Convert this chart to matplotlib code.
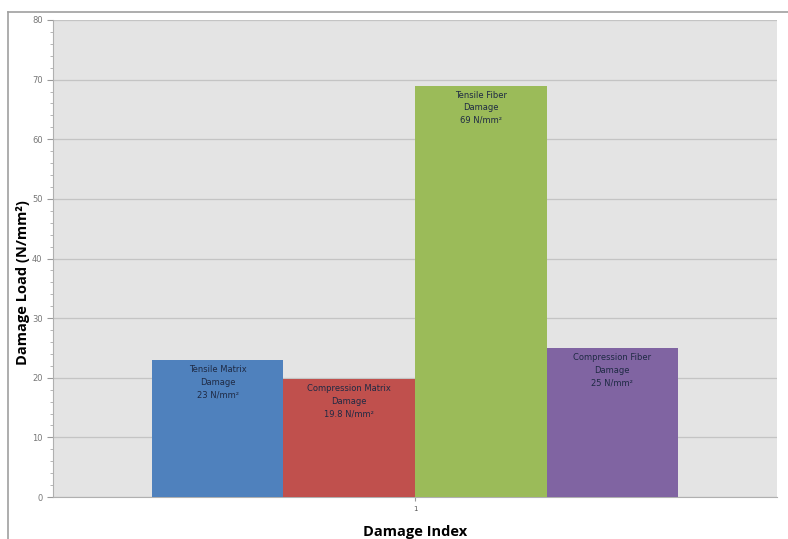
import numpy as np
import matplotlib
matplotlib.use('Agg')
import matplotlib.pyplot as plt
from matplotlib.lines import Line2D

# data
series = ['Tensile Matrix Damage', 'Compression Matrix Damage',
          'Tensile Fiber Damage', 'Compression Fiber Damage']
values = [23, 19.8, 69, 25]
bar_notes = ['Tensile Matrix\nDamage\n23 N/mm²',
             'Compression Matrix\nDamage\n19.8 N/mm²',
             'Tensile Fiber\nDamage\n69 N/mm²',
             'Compression Fiber\nDamage\n25 N/mm²']
colors = ['#4F81BD', '#C0504D', '#9BBB59', '#8064A2']
categories = ['1']
y_ticks = [0, 10, 20, 30, 40, 50, 60, 70, 80]

fig = plt.figure(figsize=(7.88, 5.39), dpi=100)
ax = fig.add_axes([0.0673, 0.0779, 0.9187, 0.885])
ax.set_facecolor('#e4e4e4')

n = len(values)
group_w = 0.727
w = group_w / n
x0 = 0 - group_w / 2 + w / 2
for i, (v, c, note) in enumerate(zip(values, colors, bar_notes)):
    xpos = x0 + i * w
    ax.bar(xpos, v, width=w, color=c, zorder=3, label=series[i])
    ax.text(xpos, v - 0.9, note, ha='center', va='top', fontsize=6,
            color='#1f2a44', linespacing=1.5, zorder=4)

ax.set_xlim(-0.5, 0.5)
ax.set_ylim(0, 80)
ax.set_yticks(y_ticks)
ax.set_yticks(np.arange(0, 81, 2), minor=True)
ax.set_xticks([0])
ax.set_xticklabels(categories)
ax.tick_params(axis='y', which='major', labelsize=6, colors='#999999',
               labelcolor='#777777', length=4, direction='out')
ax.tick_params(axis='y', which='minor', length=2, colors='#aaaaaa')
ax.tick_params(axis='x', labelsize=5, colors='#999999', labelcolor='#555555', length=3)
ax.grid(axis='y', which='major', color='#c4c4c4', linewidth=0.9, zorder=0)

for s in ['top', 'right']:
    ax.spines[s].set_visible(False)
for s in ['left', 'bottom']:
    ax.spines[s].set_color('#b0b0b0')
    ax.spines[s].set_linewidth(0.8)

ax.set_ylabel('Damage Load (N/mm²)', fontsize=10.5, fontweight='bold',
              family='Open Sans')
ax.yaxis.set_label_coords(-0.032, 0.45)
ax.set_xlabel('Damage Index', fontsize=10.5, fontweight='bold', family='Open Sans')
ax.xaxis.set_label_coords(0.5, -0.058)

# outer chart frame
fig.add_artist(Line2D([0.0102, 0.0102], [0, 0.978], color='#a0a0a0', lw=1.2,
                      transform=fig.transFigure))
fig.add_artist(Line2D([0.0102, 1.0], [0.978, 0.978], color='#a0a0a0', lw=1.2,
                      transform=fig.transFigure))

plt.savefig('out.png', dpi=100)
plt.close()
